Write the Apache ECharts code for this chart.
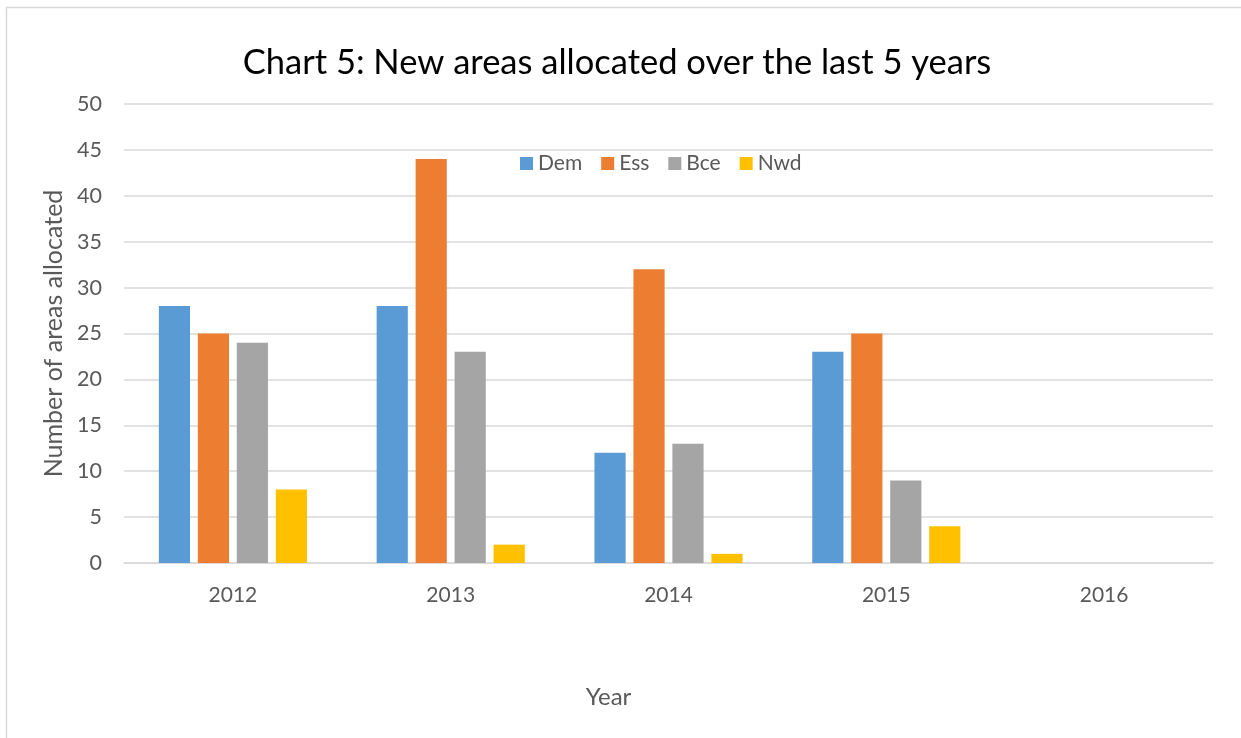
<!DOCTYPE html>
<html>
<head>
<meta charset="utf-8">
<script src="https://cdn.jsdelivr.net/npm/echarts@6/dist/echarts.min.js"></script>
<style>html,body{margin:0;padding:0;background:#fff}#c{width:1241px;height:738px}</style>
</head>
<body>
<div id="c"></div>
<script>
const categories = ['2012', '2013', '2014', '2015', '2016'];
const dem = [28, 28, 12, 23, null];
const ess = [25, 44, 32, 25, null];
const bce = [24, 23, 13, 9, null];
const nwd = [8, 2, 1, 4, null];
const seriesNames = ['Dem', 'Ess', 'Bce', 'Nwd'];
const colors = ['#5b9bd5', '#ed7d31', '#a5a5a5', '#ffc000'];

const font = 'Lato, "Open Sans", sans-serif';
const chart = echarts.init(document.getElementById('c'));
const dataSets = [dem, ess, bce, nwd];
chart.setOption({
  animation: false,
  color: colors,
  textStyle: { fontFamily: font },
  graphic: [{
    type: 'rect', left: 4, top: 5,
    shape: { width: 1300, height: 800 },
    style: { fill: 'none', stroke: '#d9d9d9', lineWidth: 1.5 }, silent: true
  }],
  title: {
    text: 'Chart 5: New areas allocated over the last 5 years',
    left: 612, top: 40, textAlign: 'center',
    textStyle: { fontFamily: font, fontSize: 34.5, fontWeight: 'normal', color: '#000' }
  },
  legend: {
    data: seriesNames, top: 148, left: 515,
    itemWidth: 13, itemHeight: 13, itemGap: 19, icon: 'rect',
    textStyle: { fontFamily: font, fontSize: 21, color: '#595959' }
  },
  grid: { left: 124, right: 28, top: 104, bottom: 175, containLabel: false },
  xAxis: {
    type: 'category', data: categories,
    name: 'Year', nameLocation: 'middle', nameGap: 122,
    nameTextStyle: { fontFamily: font, fontSize: 24, color: '#595959', padding: [0, 120, 0, 0] },
    axisTick: { show: false },
    axisLine: { lineStyle: { color: '#d9d9d9', width: 1.5 } },
    axisLabel: { fontFamily: font, fontSize: 21, color: '#595959', margin: 22 }
  },
  yAxis: {
    type: 'value', min: 0, max: 50, interval: 5,
    name: 'Number of areas allocated', nameLocation: 'middle', nameGap: 55,
    nameTextStyle: { fontFamily: font, fontSize: 25, color: '#595959' },
    axisLine: { show: false }, axisTick: { show: false },
    splitLine: { lineStyle: { color: '#d9d9d9', width: 1.5 } },
    axisLabel: { fontFamily: font, fontSize: 21.5, color: '#595959', margin: 22 }
  },
  series: seriesNames.map((n, i) => ({
    name: n, type: 'bar', data: dataSets[i],
    barGap: '25%', barCategoryGap: '32%'
  }))
});
</script>
</body>
</html>
